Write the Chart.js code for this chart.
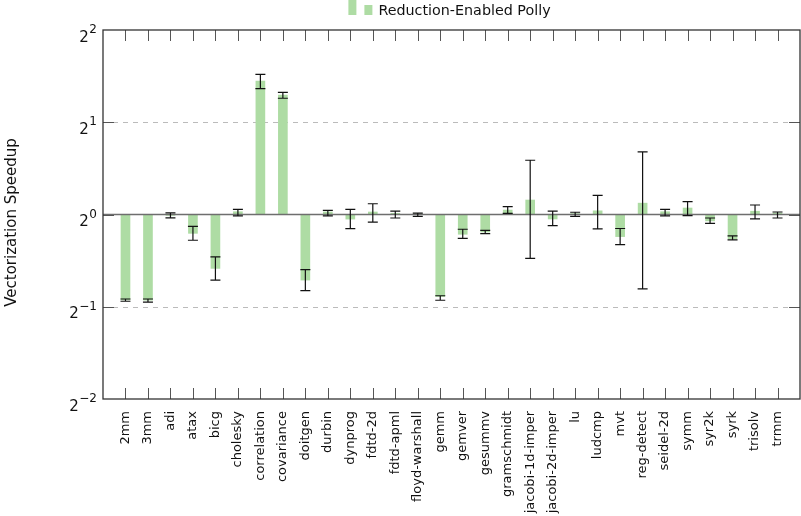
<!DOCTYPE html>
<html>
<head>
<meta charset="utf-8">
<script src="https://cdn.jsdelivr.net/npm/chart.js@4/dist/chart.umd.min.js"></script>
<style>
  html, body { margin: 0; padding: 0; background: #fff; }
  #wrap { width: 801px; height: 516px; }
</style>
</head>
<body>
<div id="wrap"><canvas id="chart" width="801" height="516"></canvas></div>
<script>
// Benchmarks (x axis)
const categories = ['2mm', '3mm', 'adi', 'atax', 'bicg', 'cholesky', 'correlation', 'covariance',
    'doitgen', 'durbin', 'dynprog', 'fdtd-2d', 'fdtd-apml', 'floyd-warshall', 'gemm', 'gemver',
    'gesummv', 'gramschmidt', 'jacobi-1d-imper', 'jacobi-2d-imper', 'lu', 'ludcmp', 'mvt',
    'reg-detect', 'seidel-2d', 'symm', 'syr2k', 'syrk', 'trisolv', 'trmm'];

// Speedup of Reduction-Enabled Polly
const speedup = [0.526, 0.525, 0.993, 0.868, 0.667, 1.021, 2.727, 2.454,
    0.611, 1.019, 0.966, 1.019, 1.009, 1.003, 0.540, 0.862,
    0.877, 1.034, 1.115, 0.967, 1.007, 1.028, 0.847,
    1.089, 1.021, 1.050, 0.953, 0.832, 1.025, 1.011];

// Error bar ends
const errLow = [0.521, 0.518, 0.975, 0.824, 0.611, 0.989, 2.574, 2.395,
    0.564, 0.989, 0.899, 0.945, 0.974, 0.986, 0.525, 0.836,
    0.866, 1.009, 0.719, 0.920, 0.986, 0.898, 0.798,
    0.572, 0.989, 0.991, 0.936, 0.827, 0.967, 0.974];
const errHigh = [0.530, 0.530, 1.012, 0.914, 0.727, 1.040, 2.868, 2.505,
    0.661, 1.032, 1.040, 1.084, 1.025, 1.011, 0.543, 0.895,
    0.888, 1.061, 1.503, 1.025, 1.017, 1.154, 0.900,
    1.602, 1.040, 1.101, 0.974, 0.851, 1.074, 1.019];

// Y axis (log base 2): tick values and their labels as base + exponent
const yTicks = [0.25, 0.5, 1, 2, 4];
const yTickBase = '2';
const yTickExponents = ['−2', '−1', '0', '1', '2'];
const yTitle = 'Vectorization Speedup';

const seriesName = 'Reduction-Enabled Polly';
const barColor = '#aedca4';
const FONT = "'DejaVu Sans', sans-serif";

// Dashed grid lines behind the bars
const gridPlugin = {
    id: 'gridLines',
    beforeDatasetsDraw(chart) {
        const { ctx, chartArea: a, scales: { y } } = chart;
        ctx.save();
        ctx.strokeStyle = '#bbbbbb';
        ctx.lineWidth = 1;
        ctx.setLineDash([5, 5]);
        [0.5, 2].forEach(v => {
            const py = Math.round(y.getPixelForValue(v)) + 0.5;
            ctx.beginPath();
            ctx.moveTo(a.left, py);
            ctx.lineTo(a.right, py);
            ctx.stroke();
        });
        ctx.restore();
    }
};

// Baseline, error bars, frame, ticks, y labels and legend on top
const overlayPlugin = {
    id: 'overlay',
    afterDatasetsDraw(chart) {
        const { ctx, chartArea: a, scales: { x, y } } = chart;
        ctx.save();

        // baseline at 2^0
        const y0 = y.getPixelForValue(1);
        ctx.strokeStyle = '#6e6e6e';
        ctx.lineWidth = 1.6;
        ctx.beginPath();
        ctx.moveTo(a.left, y0);
        ctx.lineTo(a.right, y0);
        ctx.stroke();

        // error bars
        ctx.strokeStyle = '#111';
        ctx.lineWidth = 1.2;
        categories.forEach((c, i) => {
            const px = x.getPixelForValue(i);
            const lo = y.getPixelForValue(errLow[i]);
            const hi = y.getPixelForValue(errHigh[i]);
            ctx.beginPath();
            ctx.moveTo(px, lo);
            ctx.lineTo(px, hi);
            ctx.moveTo(px - 5, lo);
            ctx.lineTo(px + 5, lo);
            ctx.moveTo(px - 5, hi);
            ctx.lineTo(px + 5, hi);
            ctx.stroke();
        });

        // tick marks inside the frame
        ctx.strokeStyle = '#555';
        ctx.lineWidth = 1;
        categories.forEach((c, i) => {
            const px = Math.round(x.getPixelForValue(i)) + 0.5;
            ctx.beginPath();
            ctx.moveTo(px, a.top);
            ctx.lineTo(px, a.top + 11);
            ctx.moveTo(px, a.bottom);
            ctx.lineTo(px, a.bottom - 11);
            ctx.stroke();
        });
        yTicks.slice(1, -1).forEach(v => {
            const py = Math.round(y.getPixelForValue(v)) + 0.5;
            ctx.beginPath();
            ctx.moveTo(a.left, py);
            ctx.lineTo(a.left + 11, py);
            ctx.moveTo(a.right, py);
            ctx.lineTo(a.right - 11, py);
            ctx.stroke();
        });

        // frame
        ctx.strokeStyle = '#333';
        ctx.lineWidth = 1.3;
        ctx.strokeRect(a.left, a.top, a.right - a.left, a.bottom - a.top);

        // y tick labels: 2 with a raised exponent
        ctx.fillStyle = '#111';
        ctx.textAlign = 'right';
        ctx.textBaseline = 'alphabetic';
        const rx = a.left - 6;
        yTicks.forEach((v, i) => {
            const py = y.getPixelForValue(v);
            ctx.font = '12px ' + FONT;
            const ew = ctx.measureText(yTickExponents[i]).width;
            ctx.fillText(yTickExponents[i], rx, py + 3);
            ctx.font = '15px ' + FONT;
            ctx.fillText(yTickBase, rx - ew - 0.5, py + 11.5);
        });

        // y axis title
        ctx.save();
        ctx.translate(12, (a.top + a.bottom) / 2 + 8);
        ctx.rotate(-Math.PI / 2);
        ctx.textAlign = 'center';
        ctx.textBaseline = 'middle';
        ctx.font = '15px ' + FONT;
        ctx.fillText(yTitle, 0, 0);
        ctx.restore();

        // legend: two bars and the series name, centred over the plot
        ctx.textAlign = 'left';
        ctx.font = '14.3px ' + FONT;
        const textW = ctx.measureText(seriesName).width;
        const totalW = 30 + textW;
        const sx = (a.left + a.right) / 2 - totalW / 2 - 2;
        ctx.fillStyle = barColor;
        ctx.fillRect(sx, 0, 8, 15);
        ctx.fillRect(sx + 16, 5, 8, 10);
        ctx.fillStyle = '#111';
        ctx.textBaseline = 'middle';
        ctx.fillText(seriesName, sx + 30, 11);

        ctx.restore();
    }
};

new Chart(document.getElementById('chart'), {
    type: 'bar',
    data: {
        datasets: [{
            label: seriesName,
            data: categories.map((c, i) => ({ x: i, y: [1, speedup[i]] })),
            backgroundColor: barColor,
            borderWidth: 0,
            barThickness: 9,
        }]
    },
    options: {
        responsive: false,
        animation: false,
        layout: { padding: { top: 30, right: 1, left: 0, bottom: 0 } },
        plugins: {
            legend: { display: false },
            tooltip: { enabled: false },
        },
        scales: {
            x: {
                type: 'linear',
                offset: false,
                min: -1,
                max: 30,
                afterBuildTicks: scale => { scale.ticks = categories.map((c, i) => ({ value: i })); },
                afterFit: scale => { scale.height = 117; },
                grid: { display: false },
                border: { display: false },
                ticks: {
                    autoSkip: false,
                    minRotation: 90,
                    maxRotation: 90,
                    padding: 4,
                    color: '#111',
                    font: { family: FONT, size: 13 },
                    callback: v => categories[v],
                },
            },
            y: {
                type: 'logarithmic',
                min: 0.25,
                max: 4,
                afterBuildTicks: scale => { scale.ticks = yTicks.map(v => ({ value: v })); },
                afterFit: scale => { scale.width = 103; },
                grid: { display: false },
                border: { display: false },
                ticks: { display: false },
            },
        },
    },
    plugins: [gridPlugin, overlayPlugin],
});
</script>
</body>
</html>
